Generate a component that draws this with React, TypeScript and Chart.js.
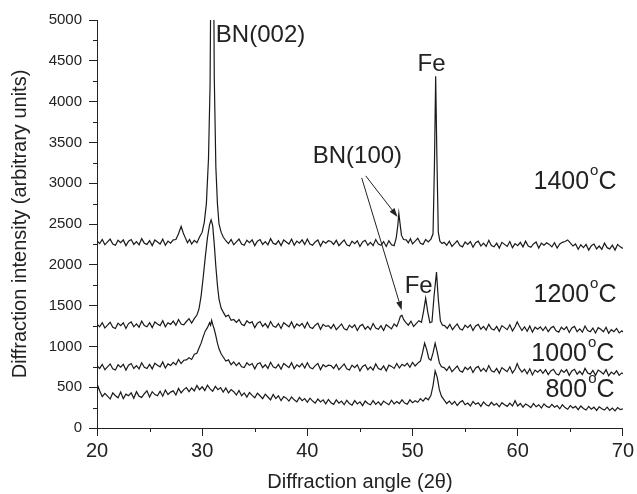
import React, { useEffect, useRef } from 'react';
import { Chart, registerables } from 'chart.js';

Chart.register(...registerables);

// ---- axis definitions ----
const X_MIN = 20;
const X_MAX = 70;
const X_STEP = 10;
const Y_MIN = 0;
const Y_MAX = 5000;
const Y_STEP = 500;
const X_MINOR_TICKS = [25, 35, 45, 55, 65];
const Y_MINOR_TICKS = [250, 750, 1250, 1750, 2250, 2750, 3250, 3750, 4250, 4750];

const X_TITLE = 'Diffraction angle (2\u03B8)';
const Y_TITLE = 'Diffraction intensity (arbitrary units)';

// ---- series: [2θ, intensity] ----
const S1400: [number, number][] = [
  [20, 2295], [20.25, 2260], [20.5, 2310], [20.75, 2245], [21, 2280], [21.25, 2315], [21.5, 2255], [21.75, 2240],
  [22, 2300], [22.25, 2270], [22.5, 2305], [22.75, 2235], [23, 2290], [23.25, 2310], [23.5, 2250], [23.75, 2285],
  [24, 2245], [24.25, 2320], [24.5, 2265], [24.75, 2250], [25, 2295], [25.25, 2235], [25.5, 2305], [25.75, 2280],
  [26, 2255], [26.25, 2315], [26.5, 2240], [26.75, 2290], [27, 2265], [27.25, 2305], [27.5, 2310], [27.75, 2380],
  [28, 2470], [28.2, 2390], [28.4, 2330], [28.6, 2270], [28.8, 2310], [29, 2255], [29.25, 2300], [29.5, 2270],
  [29.75, 2340], [30, 2400], [30.2, 2520], [30.4, 2750], [30.6, 3300], [30.75, 4200], [30.85, 6000], [30.95, 9500],
  [31.05, 6500], [31.15, 4300], [31.3, 3200], [31.45, 2750], [31.6, 2500], [31.8, 2400], [32, 2340], [32.25, 2295],
  [32.5, 2260], [32.75, 2310], [33, 2245], [33.25, 2280], [33.5, 2315], [33.75, 2255], [34, 2240], [34.25, 2300],
  [34.5, 2270], [34.75, 2305], [35, 2235], [35.25, 2290], [35.5, 2310], [35.75, 2250], [36, 2285], [36.25, 2245],
  [36.5, 2320], [36.75, 2265], [37, 2250], [37.25, 2295], [37.5, 2235], [37.75, 2305], [38, 2280], [38.25, 2255],
  [38.5, 2315], [38.75, 2240], [39, 2290], [39.25, 2265], [39.5, 2305], [39.75, 2250], [40, 2315], [40.25, 2255],
  [40.5, 2240], [40.75, 2280], [41, 2305], [41.25, 2230], [41.5, 2290], [41.75, 2265], [42, 2295], [42.25, 2285],
  [42.5, 2250], [42.75, 2300], [43, 2235], [43.25, 2270], [43.5, 2305], [43.75, 2245], [44, 2230], [44.25, 2290],
  [44.5, 2260], [44.75, 2295], [45, 2225], [45.25, 2280], [45.5, 2300], [45.75, 2240], [46, 2275], [46.25, 2235],
  [46.5, 2310], [46.75, 2255], [47, 2240], [47.25, 2285], [47.5, 2225], [47.75, 2295], [48, 2245], [48.25, 2235],
  [48.45, 2330], [48.6, 2480], [48.7, 2630], [48.8, 2520], [48.95, 2360], [49.15, 2310], [49.4, 2305], [49.6, 2270],
  [49.8, 2320], [50, 2255], [50.25, 2290], [50.5, 2325], [50.75, 2265], [51, 2250], [51.25, 2310], [51.5, 2280],
  [51.75, 2315], [51.95, 2380], [52.08, 3200], [52.2, 4310], [52.32, 3300], [52.45, 2400], [52.6, 2290], [52.8, 2260],
  [53, 2275], [53.25, 2240], [53.5, 2290], [53.75, 2225], [54, 2260], [54.25, 2295], [54.5, 2235], [54.75, 2220],
  [55, 2280], [55.25, 2250], [55.5, 2285], [55.75, 2215], [56, 2270], [56.25, 2290], [56.5, 2230], [56.75, 2265],
  [57, 2225], [57.25, 2300], [57.5, 2235], [57.75, 2220], [58, 2265], [58.25, 2205], [58.5, 2275], [58.75, 2250],
  [59, 2225], [59.25, 2285], [59.5, 2210], [59.75, 2260], [60, 2235], [60.25, 2275], [60.5, 2220], [60.75, 2290],
  [61, 2230], [61.25, 2215], [61.5, 2255], [61.75, 2280], [62, 2205], [62.25, 2265], [62.5, 2240], [62.75, 2270],
  [63, 2250], [63.25, 2220], [63.5, 2270], [63.75, 2205], [64, 2255], [64.25, 2275], [64.5, 2285], [64.75, 2305],
  [65, 2270], [65.25, 2230], [65.5, 2255], [65.75, 2190], [66, 2245], [66.25, 2210], [66.5, 2250], [66.75, 2180],
  [67, 2235], [67.25, 2255], [67.5, 2195], [67.75, 2230], [68, 2190], [68.25, 2265], [68.5, 2210], [68.75, 2195],
  [69, 2240], [69.25, 2180], [69.5, 2250], [69.75, 2220], [70, 2200],
];

const S1200: [number, number][] = [
  [20, 1275], [20.25, 1240], [20.5, 1290], [20.75, 1225], [21, 1260], [21.25, 1295], [21.5, 1235], [21.75, 1220],
  [22, 1285], [22.25, 1255], [22.5, 1290], [22.75, 1220], [23, 1280], [23.25, 1300], [23.5, 1240], [23.75, 1275],
  [24, 1235], [24.25, 1310], [24.5, 1255], [24.75, 1240], [25, 1290], [25.25, 1230], [25.5, 1300], [25.75, 1275],
  [26, 1255], [26.25, 1315], [26.5, 1240], [26.75, 1290], [27, 1270], [27.25, 1310], [27.5, 1260], [27.75, 1330],
  [28, 1275], [28.25, 1265], [28.5, 1305], [28.75, 1340], [29, 1285], [29.25, 1340], [29.5, 1385], [29.7, 1460],
  [29.9, 1620], [30.1, 1850], [30.3, 2100], [30.5, 2330], [30.7, 2490], [30.85, 2550], [31, 2480], [31.15, 2250],
  [31.3, 1980], [31.45, 1750], [31.6, 1580], [31.8, 1470], [32, 1420], [32.25, 1365], [32.5, 1385], [32.75, 1320],
  [33, 1330], [33.25, 1295], [33.5, 1330], [33.75, 1270], [34, 1255], [34.25, 1315], [34.5, 1285], [34.75, 1300],
  [35, 1230], [35.25, 1285], [35.5, 1305], [35.75, 1245], [36, 1280], [36.25, 1230], [36.5, 1305], [36.75, 1250],
  [37, 1235], [37.25, 1280], [37.5, 1220], [37.75, 1290], [38, 1265], [38.25, 1240], [38.5, 1300], [38.75, 1225],
  [39, 1275], [39.25, 1250], [39.5, 1280], [39.75, 1225], [40, 1295], [40.25, 1235], [40.5, 1220], [40.75, 1260],
  [41, 1285], [41.25, 1210], [41.5, 1270], [41.75, 1245], [42, 1255], [42.25, 1220], [42.5, 1270], [42.75, 1205],
  [43, 1240], [43.25, 1275], [43.5, 1215], [43.75, 1200], [44, 1260], [44.25, 1230], [44.5, 1265], [44.75, 1195],
  [45, 1250], [45.25, 1270], [45.5, 1210], [45.75, 1245], [46, 1205], [46.25, 1280], [46.5, 1225], [46.75, 1210],
  [47, 1255], [47.25, 1195], [47.5, 1265], [47.75, 1240], [48, 1215], [48.25, 1275], [48.5, 1245], [48.7, 1310],
  [48.85, 1370], [49, 1380], [49.15, 1330], [49.35, 1295], [49.6, 1260], [49.85, 1310], [50.1, 1245], [50.35, 1280],
  [50.6, 1315], [50.85, 1295], [51.05, 1430], [51.25, 1590], [51.45, 1420], [51.65, 1290], [51.85, 1300], [52.05, 1620],
  [52.28, 1910], [52.45, 1580], [52.65, 1310], [52.85, 1260], [53.05, 1255], [53.3, 1220], [53.55, 1270], [53.8, 1205],
  [54, 1240], [54.25, 1275], [54.5, 1215], [54.75, 1200], [55, 1260], [55.25, 1230], [55.5, 1265], [55.75, 1195],
  [56, 1250], [56.25, 1270], [56.5, 1210], [56.75, 1245], [57, 1200], [57.25, 1270], [57.5, 1215], [57.75, 1200],
  [58, 1245], [58.25, 1185], [58.5, 1255], [58.75, 1230], [59, 1205], [59.25, 1265], [59.5, 1190], [59.75, 1240],
  [59.95, 1300], [60.15, 1250], [60.4, 1195], [60.65, 1240], [60.9, 1185], [61.15, 1250], [61.4, 1175], [61.65, 1235],
  [61.9, 1210], [62.15, 1240], [62.4, 1195], [62.65, 1240], [62.9, 1180], [63.15, 1225], [63.4, 1245], [63.65, 1190],
  [63.9, 1175], [64.15, 1235], [64.4, 1205], [64.65, 1240], [64.9, 1170], [65.15, 1225], [65.4, 1245], [65.65, 1180],
  [65.9, 1215], [66.15, 1175], [66.4, 1250], [66.65, 1195], [66.9, 1180], [67.15, 1225], [67.4, 1165], [67.65, 1230],
  [67.9, 1210], [68.15, 1180], [68.4, 1235], [68.65, 1160], [68.9, 1205], [69.15, 1180], [69.4, 1220], [69.65, 1165],
  [69.9, 1190], [70, 1175],
];

const S1000: [number, number][] = [
  [20, 765], [20.25, 730], [20.5, 780], [20.75, 715], [21, 750], [21.25, 785], [21.5, 725], [21.75, 710],
  [22, 775], [22.25, 745], [22.5, 780], [22.75, 710], [23, 770], [23.25, 790], [23.5, 730], [23.75, 765],
  [24, 725], [24.25, 800], [24.5, 745], [24.75, 730], [25, 780], [25.25, 725], [25.5, 795], [25.75, 770],
  [26, 750], [26.25, 810], [26.5, 735], [26.75, 785], [27, 765], [27.25, 805], [27.5, 775], [27.75, 840],
  [28, 790], [28.25, 830], [28.5, 835], [28.75, 860], [29, 840], [29.25, 905], [29.5, 915], [29.7, 980],
  [29.9, 1040], [30.1, 1120], [30.3, 1190], [30.5, 1230], [30.7, 1290], [30.8, 1260], [30.9, 1320], [31, 1270],
  [31.15, 1210], [31.3, 1130], [31.45, 1040], [31.6, 970], [31.8, 910], [32, 870], [32.25, 820], [32.5, 835],
  [32.75, 775], [33, 810], [33.25, 765], [33.5, 800], [33.75, 750], [34, 740], [34.25, 800], [34.5, 770],
  [34.75, 790], [35, 725], [35.25, 785], [35.5, 800], [35.75, 740], [36, 775], [36.25, 730], [36.5, 805],
  [36.75, 750], [37, 735], [37.25, 780], [37.5, 720], [37.75, 790], [38, 765], [38.25, 740], [38.5, 800],
  [38.75, 725], [39, 775], [39.25, 750], [39.5, 790], [39.75, 735], [40, 800], [40.25, 740], [40.5, 725],
  [40.75, 765], [41, 790], [41.25, 715], [41.5, 775], [41.75, 750], [42, 770], [42.25, 765], [42.5, 730],
  [42.75, 780], [43, 715], [43.25, 750], [43.5, 785], [43.75, 725], [44, 710], [44.25, 770], [44.5, 740],
  [44.75, 775], [45, 700], [45.25, 755], [45.5, 775], [45.75, 715], [46, 750], [46.25, 710], [46.5, 785],
  [46.75, 730], [47, 715], [47.25, 760], [47.5, 700], [47.75, 770], [48, 755], [48.25, 730], [48.5, 790],
  [48.75, 735], [49, 780], [49.25, 760], [49.5, 795], [49.75, 745], [50, 805], [50.25, 760], [50.5, 795],
  [50.75, 820], [50.95, 920], [51.15, 1040], [51.35, 960], [51.55, 850], [51.75, 830], [51.95, 920], [52.15, 1040],
  [52.35, 930], [52.55, 800], [52.75, 750], [53, 740], [53.25, 705], [53.5, 755], [53.75, 690], [54, 725],
  [54.25, 760], [54.5, 700], [54.75, 685], [55, 745], [55.25, 715], [55.5, 750], [55.75, 680], [56, 735],
  [56.25, 755], [56.5, 695], [56.75, 730], [57, 690], [57.25, 765], [57.5, 700], [57.75, 685], [58, 730],
  [58.25, 670], [58.5, 740], [58.75, 715], [59, 690], [59.25, 750], [59.5, 675], [59.75, 720], [59.95, 790],
  [60.15, 730], [60.4, 685], [60.65, 720], [60.9, 665], [61.15, 725], [61.4, 650], [61.65, 710], [61.9, 685],
  [62.15, 715], [62.4, 670], [62.65, 715], [62.9, 655], [63.15, 700], [63.4, 720], [63.65, 665], [63.9, 650],
  [64.15, 710], [64.4, 680], [64.65, 715], [64.9, 645], [65.15, 700], [65.4, 720], [65.65, 660], [65.9, 695],
  [66.15, 655], [66.4, 730], [66.65, 675], [66.9, 660], [67.15, 705], [67.4, 645], [67.65, 710], [67.9, 690],
  [68.15, 660], [68.4, 715], [68.65, 640], [68.9, 685], [69.15, 660], [69.4, 700], [69.65, 645], [69.9, 675],
  [70, 665],
];

const S800: [number, number][] = [
  [20, 420], [20.1, 510], [20.3, 440], [20.5, 385], [20.75, 425], [21, 390], [21.25, 355], [21.5, 430],
  [21.75, 395], [22, 370], [22.25, 440], [22.5, 360], [22.75, 415], [23, 395], [23.25, 430], [23.5, 365],
  [23.75, 445], [24, 390], [24.25, 375], [24.5, 420], [24.75, 455], [25, 380], [25.25, 445], [25.5, 410],
  [25.75, 395], [26, 450], [26.25, 390], [26.5, 465], [26.75, 410], [27, 440], [27.25, 455], [27.5, 405],
  [27.75, 485], [28, 430], [28.25, 470], [28.5, 495], [28.75, 445], [29, 490], [29.25, 455], [29.5, 520],
  [29.75, 470], [30, 505], [30.25, 460], [30.5, 525], [30.75, 480], [31, 450], [31.25, 510], [31.5, 470],
  [31.75, 495], [32, 440], [32.25, 490], [32.5, 430], [32.75, 470], [33, 445], [33.25, 405], [33.5, 460],
  [33.75, 395], [34, 430], [34.25, 380], [34.5, 435], [34.75, 400], [35, 370], [35.25, 425], [35.5, 395],
  [35.75, 360], [36, 415], [36.25, 380], [36.5, 345], [36.75, 410], [37, 360], [37.25, 395], [37.5, 335],
  [37.75, 385], [38, 365], [38.25, 330], [38.5, 380], [38.75, 345], [39, 320], [39.25, 375], [39.5, 335],
  [39.75, 360], [40, 315], [40.25, 365], [40.5, 330], [40.75, 305], [41, 355], [41.25, 320], [41.5, 345],
  [41.75, 295], [42, 350], [42.25, 310], [42.5, 290], [42.75, 345], [43, 305], [43.25, 330], [43.5, 285],
  [43.75, 340], [44, 300], [44.25, 280], [44.5, 335], [44.75, 295], [45, 320], [45.25, 275], [45.5, 330],
  [45.75, 300], [46, 285], [46.25, 335], [46.5, 290], [46.75, 320], [47, 280], [47.25, 330], [47.5, 305],
  [47.75, 285], [48, 340], [48.25, 295], [48.5, 325], [48.75, 300], [49, 345], [49.25, 305], [49.5, 290],
  [49.75, 345], [50, 310], [50.25, 335], [50.5, 315], [50.75, 360], [51, 330], [51.25, 370], [51.5, 345],
  [51.75, 400], [51.95, 520], [52.15, 700], [52.35, 620], [52.55, 470], [52.75, 390], [53, 345], [53.25, 300],
  [53.5, 330], [53.75, 290], [54, 325], [54.25, 275], [54.5, 315], [54.75, 335], [55, 285], [55.25, 305],
  [55.5, 270], [55.75, 325], [56, 290], [56.25, 310], [56.5, 265], [56.75, 320], [57, 285], [57.25, 270],
  [57.5, 315], [57.75, 280], [58, 300], [58.25, 260], [58.5, 310], [58.75, 285], [59, 265], [59.25, 305],
  [59.5, 270], [59.75, 335], [60, 270], [60.25, 300], [60.5, 255], [60.75, 295], [61, 275], [61.25, 250],
  [61.5, 300], [61.75, 260], [62, 285], [62.25, 245], [62.5, 295], [62.75, 265], [63, 250], [63.25, 290],
  [63.5, 255], [63.75, 275], [64, 235], [64.25, 285], [64.5, 250], [64.75, 230], [65, 275], [65.25, 245],
  [65.5, 265], [65.75, 225], [66, 270], [66.25, 240], [66.5, 220], [66.75, 265], [67, 230], [67.25, 255],
  [67.5, 215], [67.75, 260], [68, 235], [68.25, 220], [68.5, 255], [68.75, 215], [69, 245], [69.25, 210],
  [69.5, 250], [69.75, 225], [70, 235],
];

// ---- annotations (data coordinates: 2θ, intensity of text baseline) ----
const PEAK_LABELS = [
  { text: 'BN(002)', x: 31.3, y: 4736 },
  { text: 'Fe', x: 50.48, y: 4373 },
  { text: 'BN(100)', x: 40.51, y: 3250 },
  { text: 'Fe', x: 49.25, y: 1652 },
];
const TEMP_LABELS = [
  { value: '1400', x: 61.5, y: 2924 },
  { value: '1200', x: 61.5, y: 1542 },
  { value: '1000', x: 61.3, y: 821 },
  { value: '800', x: 62.64, y: 378 },
];
const ARROWS = [
  { from: [45.17, 3065], to: [48.97, 1443] },
  { from: [45.55, 3090], to: [48.58, 2586] },
];

const FONT = '"Liberation Sans", Arial, Helvetica, sans-serif';
const INK = '#222222';
const LINE = '#1a1a1a';

const annotationPlugin = {
  id: 'xrdAnnotations',
  afterDatasetsDraw(chart: any) {
    const { ctx, chartArea } = chart;
    const xs = chart.scales.x;
    const ys = chart.scales.y;
    ctx.save();
    // minor ticks
    ctx.strokeStyle = INK;
    ctx.lineWidth = 1;
    ctx.beginPath();
    for (const v of Y_MINOR_TICKS) {
      const py = Math.round(ys.getPixelForValue(v)) + 0.5;
      ctx.moveTo(chartArea.left - 4, py);
      ctx.lineTo(chartArea.left, py);
    }
    for (const v of X_MINOR_TICKS) {
      const px = Math.round(xs.getPixelForValue(v)) + 0.5;
      ctx.moveTo(px, chartArea.bottom);
      ctx.lineTo(px, chartArea.bottom + 4);
    }
    ctx.stroke();

    // peak labels
    ctx.fillStyle = INK;
    ctx.textAlign = 'left';
    ctx.textBaseline = 'alphabetic';
    ctx.font = `24px ${FONT}`;
    for (const l of PEAK_LABELS) {
      ctx.fillText(l.text, xs.getPixelForValue(l.x), ys.getPixelForValue(l.y));
    }
    // temperature labels with superscript degree "o"
    for (const t of TEMP_LABELS) {
      const px = xs.getPixelForValue(t.x);
      const py = ys.getPixelForValue(t.y);
      ctx.font = `25px ${FONT}`;
      ctx.fillText(t.value, px, py);
      const w1 = ctx.measureText(t.value).width;
      ctx.font = `15px ${FONT}`;
      ctx.fillText('o', px + w1 + 1, py - 14);
      const w2 = ctx.measureText('o').width;
      ctx.font = `25px ${FONT}`;
      ctx.fillText('C', px + w1 + w2 + 1, py);
    }
    // arrows
    ctx.strokeStyle = INK;
    ctx.lineWidth = 1;
    for (const a of ARROWS) {
      const x1 = xs.getPixelForValue(a.from[0]);
      const y1 = ys.getPixelForValue(a.from[1]);
      const x2 = xs.getPixelForValue(a.to[0]);
      const y2 = ys.getPixelForValue(a.to[1]);
      const ang = Math.atan2(y2 - y1, x2 - x1);
      const len = 9;
      const hw = 3;
      const bx = x2 - len * Math.cos(ang);
      const by = y2 - len * Math.sin(ang);
      ctx.beginPath();
      ctx.moveTo(x1, y1);
      ctx.lineTo(bx, by);
      ctx.stroke();
      ctx.beginPath();
      ctx.moveTo(x2, y2);
      ctx.lineTo(bx + hw * Math.sin(ang), by - hw * Math.cos(ang));
      ctx.lineTo(bx - hw * Math.sin(ang), by + hw * Math.cos(ang));
      ctx.closePath();
      ctx.fill();
    }
    ctx.restore();
  },
};

const toPoints = (s: [number, number][]) => s.map(([x, y]) => ({ x, y }));

export default function App() {
  const canvasRef = useRef<HTMLCanvasElement | null>(null);

  useEffect(() => {
    const canvas = canvasRef.current;
    if (!canvas) return;
    const series = [
      { label: '1400°C', data: S1400 },
      { label: '1200°C', data: S1200 },
      { label: '1000°C', data: S1000 },
      { label: '800°C', data: S800 },
    ];
    const chart = new Chart(canvas, {
      type: 'line',
      data: {
        datasets: series.map((s) => ({
          label: s.label,
          data: toPoints(s.data),
          borderColor: LINE,
          borderWidth: 1.2,
          pointRadius: 0,
          fill: false,
          tension: 0,
        })),
      },
      options: {
        responsive: false,
        animation: false,
        events: [],
        layout: { padding: { left: 0, top: 20, right: 14, bottom: 0 } },
        plugins: {
          legend: { display: false },
          tooltip: { enabled: false },
        },
        scales: {
          x: {
            type: 'linear',
            min: X_MIN,
            max: X_MAX,
            border: { display: true, color: INK, width: 1 },
            grid: { drawOnChartArea: false, drawTicks: true, tickLength: 8, color: INK },
            ticks: {
              stepSize: X_STEP,
              color: INK,
              font: { family: FONT, size: 20 },
              padding: 3,
              maxRotation: 0,
              callback: (v: any) => String(v),
            },
            title: {
              display: true,
              text: X_TITLE,
              color: INK,
              font: { family: FONT, size: 20 },
              padding: { top: 0, bottom: 0 },
            },
            afterFit: (scale: any) => {
              scale.height = 66;
            },
          },
          y: {
            type: 'linear',
            min: Y_MIN,
            max: Y_MAX,
            border: { display: true, color: INK, width: 1 },
            grid: { drawOnChartArea: false, drawTicks: true, tickLength: 8, color: INK },
            ticks: {
              stepSize: Y_STEP,
              color: INK,
              font: { family: FONT, size: 15 },
              padding: 7,
              callback: (v: any) => String(v),
            },
            title: {
              display: true,
              text: Y_TITLE,
              color: INK,
              font: { family: FONT, size: 20 },
              padding: { top: 8, bottom: 0 },
            },
            afterFit: (scale: any) => {
              scale.width = 97;
            },
          },
        },
      },
      plugins: [annotationPlugin],
    } as any);
    return () => chart.destroy();
  }, []);

  return (
    <div style={{ position: 'fixed', left: 0, top: 0, width: 637, height: 494, background: '#fff' }}>
      <canvas ref={canvasRef} width={637} height={494} style={{ display: 'block' }} />
    </div>
  );
}
